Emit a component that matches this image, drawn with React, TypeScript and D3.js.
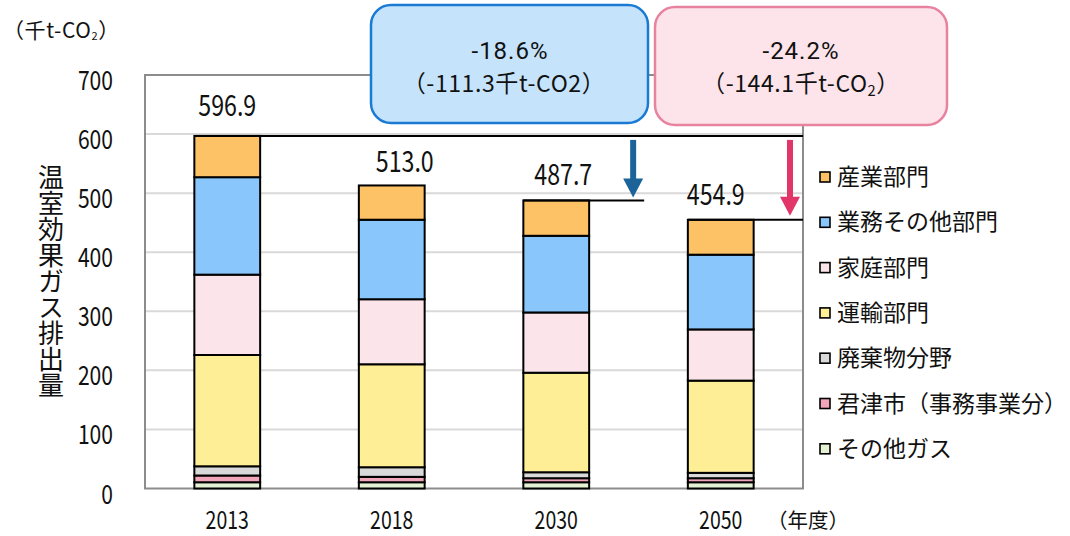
import React from 'react';
import * as d3 from 'd3';

// ---- data ----
const years = ['2013', '2018', '2030', '2050'];
const seriesKeys = ['otherGas', 'kimitsu', 'waste', 'transport', 'household', 'business', 'industry'];
const seriesNames = ['その他ガス', '君津市（事務事業分）', '廃棄物分野', '運輸部門', '家庭部門', '業務その他部門', '産業部門'];
const otherGas = [10.6, 10.6, 10.6, 10.6];
const kimitsu = [11.4, 9.1, 6.8, 6.8];
const waste = [15.6, 16.3, 10.1, 9.1];
const transport = [188.4, 174.3, 168.5, 156.1];
const household = [136.0, 110.1, 102.0, 86.7];
const business = [165.0, 134.6, 129.8, 126.5];
const industry = [69.9, 58.0, 59.9, 59.1];
const totals = [596.9, 513.0, 487.7, 454.9];
const yTicks = [0, 100, 200, 300, 400, 500, 600, 700];
const callout2030 = ['-18.6%', '（-111.3千t-CO2）'];
const callout2050 = ['-24.2%', '（-144.1千t-CO', '2', '）'];

// ---- styles ----
const colors: Record<string, string> = {
  otherGas: '#E6F1D3',
  kimitsu: '#F2A6BA',
  waste: '#D9D9D9',
  transport: '#FEEE95',
  household: '#FBE4EA',
  business: '#88C6FC',
  industry: '#FEC266',
};
const FONT = "'Noto Sans CJK JP', 'Noto Sans', sans-serif";
const NUMFONT = "Roboto, 'Noto Sans', sans-serif";
const labelDx = [0, 13, 7, -5];
const labelDy = [20, 13, 15, 15];

const W = 1070;
const H = 536;
const plot = { left: 145, right: 803, top: 75, bottom: 488.5 };

function NText(props: { x: number; y: number; size: number; sx: number; anchor?: string; children: React.ReactNode; fill?: string; family?: string; ls?: number }) {
  const { x, y, size, sx, anchor = 'middle', children, fill = '#111', family = FONT, ls = 0 } = props;
  return (
    <text
      transform={`translate(${x},${y}) scale(${sx},1)`}
      textAnchor={anchor}
      fontSize={size}
      fontFamily={family}
      letterSpacing={ls}
      fill={fill}
    >
      {children}
    </text>
  );
}

export default function App() {
  const rows = years.map((y, i) => ({
    year: y,
    otherGas: otherGas[i],
    kimitsu: kimitsu[i],
    waste: waste[i],
    transport: transport[i],
    household: household[i],
    business: business[i],
    industry: industry[i],
  }));
  const stack = d3.stack<any>().keys(seriesKeys);
  const stacked = stack(rows);

  const x = d3.scaleBand<string>().domain(years).range([plot.left, plot.right]).paddingInner(0.6).paddingOuter(0.3);
  const y = d3.scaleLinear().domain([0, 700]).range([plot.bottom, plot.top]);
  const bw = x.bandwidth();

  const legendOrder = [...seriesKeys].reverse();
  const legendY0 = 177;
  const legendStep = 45.3;

  const y2013 = y(totals[0]);
  const y2030 = y(totals[2]);
  const y2050 = y(totals[3]);
  const x2030 = x('2030')!;
  const x2050 = x('2050')!;

  const arrow = (ax: number, y1: number, y2: number, color: string) => (
    <g>
      <line x1={ax} x2={ax} y1={y1} y2={y2 - 17} stroke={color} strokeWidth={6} />
      <path d={`M${ax - 10},${y2 - 19} L${ax + 10},${y2 - 19} L${ax},${y2} Z`} fill={color} />
    </g>
  );

  return (
    <svg width={W} height={H} style={{ position: 'absolute', left: 0, top: 0, background: '#fff' }}>
      {/* gridlines */}
      {yTicks.filter((t) => t > 0 && t < 700).map((t) => (
        <line key={t} x1={plot.left} x2={plot.right} y1={y(t)} y2={y(t)} stroke="#D9D9D9" strokeWidth={2} />
      ))}
      {/* frame */}
      <rect x={plot.left} y={plot.top} width={plot.right - plot.left} height={plot.bottom - plot.top} fill="none" stroke="#8C8C8C" strokeWidth={2} />

      {/* bars */}
      {stacked.map((s) => (
        <g key={s.key}>
          {s.map((d, i) => (
            <rect
              key={i}
              x={x(years[i])!}
              y={y(d[1])}
              width={bw}
              height={y(d[0]) - y(d[1])}
              fill={colors[s.key]}
              stroke="#000"
              strokeWidth={2}
            />
          ))}
        </g>
      ))}

      {/* reference lines */}
      <line x1={x('2013')!} x2={plot.right} y1={y2013} y2={y2013} stroke="#000" strokeWidth={2} />
      <line x1={x2030} x2={x2030 + bw + 55} y1={y2030} y2={y2030} stroke="#000" strokeWidth={2} />
      <line x1={x2050} x2={plot.right} y1={y2050} y2={y2050} stroke="#000" strokeWidth={2} />
      {arrow(x2030 + bw + 44, y2013 + 4, y2030 - 3, '#1B6399')}
      {arrow(plot.right - 13, y2013 + 4, y2050 - 4, '#E2366B')}

      {/* value labels */}
      {totals.map((t, i) => (
        <NText key={i} x={x(years[i])! + bw / 2 + labelDx[i]} y={y(t) - labelDy[i]} size={29} sx={0.8}>
          {t.toFixed(1)}
        </NText>
      ))}

      {/* y tick labels */}
      {yTicks.map((t) => (
        <NText key={t} x={113} y={y(t) + 15} size={27} sx={0.78} anchor="end">
          {t}
        </NText>
      ))}

      {/* x labels */}
      {years.map((yr) => (
        <NText key={yr} x={x(yr)! + bw / 2} y={529} size={25} sx={0.78}>
          {yr}
        </NText>
      ))}
      <text x={767} y={528} fontSize={20.5} fontFamily={FONT} fill="#111">（年度）</text>

      {/* unit */}
      <text x={3} y={38} fontSize={21} fontFamily={FONT} fill="#111" letterSpacing={0.6}>
        （千t-CO<tspan fontSize={11} dy={2}>2</tspan><tspan dy={-2}>）</tspan>
      </text>

      {/* y title */}
      <text
        x={51}
        y={281}
        fontSize={26}
        fontFamily={FONT}
        fill="#111"
        textAnchor="middle"
        style={{ writingMode: 'vertical-rl' as any }}
      >
        温室効果ガス排出量
      </text>

      {/* legend */}
      {legendOrder.map((k, i) => {
        const ly = legendY0 + i * legendStep;
        return (
          <g key={k}>
            <rect x={820} y={ly - 5} width={10} height={10} fill={colors[k]} stroke="#000" strokeWidth={1.6} />
            <text x={837} y={ly + 8} fontSize={23} fontFamily={FONT} fill="#111">
              {seriesNames[seriesKeys.indexOf(k)]}
            </text>
          </g>
        );
      })}

      {/* callouts */}
      <rect x={371} y={5} width={277} height={118} rx={20} ry={20} fill="#C5E3FB" stroke="#1A7AD4" strokeWidth={2.5} />
      <NText x={510} y={58.5} size={24} sx={1} ls={1} family={NUMFONT}>{callout2030[0]}</NText>
      <NText x={504} y={92} size={23.5} sx={0.98} ls={0.6}>{callout2030[1]}</NText>

      <rect x={655} y={7} width={292} height={118} rx={20} ry={20} fill="#FCE4EA" stroke="#E8839F" strokeWidth={2.5} />
      <NText x={801} y={58.5} size={24} sx={1} ls={1} family={NUMFONT}>{callout2050[0]}</NText>
      <text
        transform={`translate(801,92) scale(0.98,1)`}
        textAnchor="middle"
        fontSize={23.5}
        fontFamily={FONT}
        letterSpacing={0.6}
        fill="#111"
      >
        {callout2050[1]}
        <tspan fontSize={15} dy={4}>{callout2050[2]}</tspan>
        <tspan dy={-4}>{callout2050[3]}</tspan>
      </text>
    </svg>
  );
}
